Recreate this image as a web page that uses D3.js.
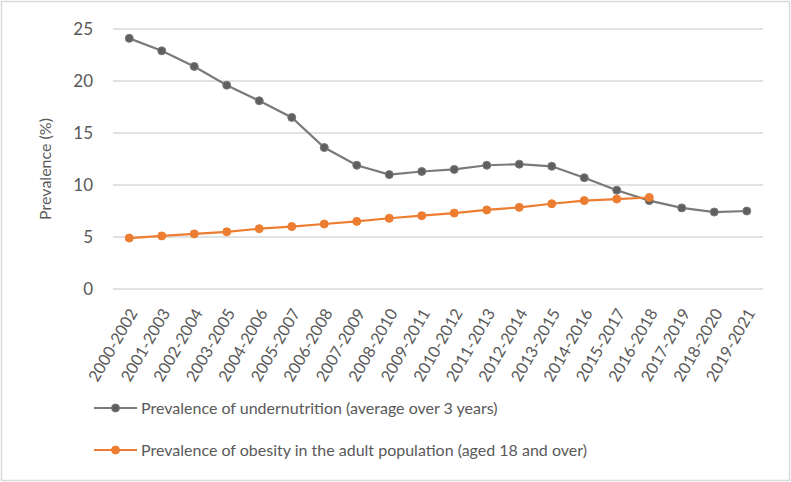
<!DOCTYPE html>
<html>
<head>
<meta charset="utf-8">
<script src="https://cdn.jsdelivr.net/npm/d3@7/dist/d3.min.js"></script>
<style>
  html, body { margin: 0; padding: 0; background: #fff; }
  svg text { font-family: Lato, "Open Sans", sans-serif; fill: #595959; }
</style>
</head>
<body>
<svg id="chart" width="791" height="482"></svg>
<script>
// Three-year periods on the category axis
const periods = [
  "2000-2002", "2001-2003", "2002-2004", "2003-2005", "2004-2006",
  "2005-2007", "2006-2008", "2007-2009", "2008-2010", "2009-2011",
  "2010-2012", "2011-2013", "2012-2014", "2013-2015", "2014-2016",
  "2015-2017", "2016-2018", "2017-2019", "2018-2020", "2019-2021"
];

// Prevalence of undernutrition, % (3-year average)
const undernutrition = [
  24.1, 22.9, 21.4, 19.6, 18.1, 16.5, 13.6, 11.9, 11.0, 11.3,
  11.5, 11.9, 12.0, 11.8, 10.7, 9.5, 8.5, 7.8, 7.4, 7.5
];

// Prevalence of obesity among adults (18+), % — series ends at 2016-2018
const obesity = [
  4.9, 5.1, 5.3, 5.5, 5.8, 6.0, 6.25, 6.5, 6.8, 7.05,
  7.3, 7.6, 7.85, 8.2, 8.5, 8.65, 8.8
];

const yTicks = [0, 5, 10, 15, 20, 25];

const seriesNames = [
  "Prevalence of undernutrition (average over 3 years)",
  "Prevalence of obesity in the adult population (aged 18 and over)"
];

const svg = d3.select("#chart");
const W = 791, H = 482;

// chart border
svg.append("rect")
  .attr("x", 1.5).attr("y", 1.5)
  .attr("width", W - 3).attr("height", H - 3)
  .attr("fill", "#fff").attr("stroke", "#d9d9d9").attr("stroke-width", 1.5);

const plot = { left: 113, right: 763, top: 29, bottom: 289 };

const x = d3.scaleBand().domain(periods).range([plot.left, plot.right]);
const y = d3.scaleLinear().domain([0, 25]).range([plot.bottom, plot.top]);
const cx = d => x(d) + x.bandwidth() / 2;

// horizontal gridlines
svg.append("g")
  .selectAll("line").data(yTicks).join("line")
  .attr("x1", plot.left).attr("x2", plot.right)
  .attr("y1", d => y(d)).attr("y2", d => y(d))
  .attr("stroke", "#d9d9d9").attr("stroke-width", 1.3);

// y axis labels
const yAxis = d3.axisLeft(y).tickValues(yTicks).tickSize(0).tickPadding(0);
svg.append("g")
  .attr("transform", `translate(${plot.left - 20},0)`)
  .call(yAxis)
  .call(g => g.select(".domain").remove())
  .selectAll("text")
  .attr("font-size", 17)
  .attr("font-family", "Lato, sans-serif")
  .attr("fill", "#636363");

// x axis labels, rotated
const xAxis = d3.axisBottom(x).tickSize(0).tickPadding(0);
svg.append("g")
  .attr("transform", `translate(0,${plot.bottom})`)
  .call(xAxis)
  .call(g => g.select(".domain").remove())
  .selectAll("text")
  .attr("font-size", 16.2)
  .attr("font-family", "Lato, sans-serif")
  .attr("fill", "#636363")
  .attr("text-anchor", "end")
  .attr("dy", "0.35em")
  .attr("transform", "translate(4,21) rotate(-60)")
  .attr("x", 0).attr("y", 0);

// y axis title
svg.append("text")
  .attr("transform", `translate(45,169) rotate(-90)`)
  .attr("text-anchor", "middle")
  .attr("dy", "0.35em")
  .attr("font-size", 16)
  .attr("fill", "#636363")
  .text("Prevalence (%)");

const line = d3.line()
  .x((d, i) => cx(periods[i]))
  .y(d => y(d));

const series = [
  { name: seriesNames[0], values: undernutrition, line: "#7a7a7a", dot: "#5f5f5f" },
  { name: seriesNames[1], values: obesity, line: "#ed7d31", dot: "#ed7d31" }
];

series.forEach(s => {
  svg.append("path")
    .datum(s.values)
    .attr("d", line)
    .attr("fill", "none")
    .attr("stroke", s.line)
    .attr("stroke-width", 2.2);
  svg.append("g")
    .selectAll("circle").data(s.values).join("circle")
    .attr("cx", (d, i) => cx(periods[i]))
    .attr("cy", d => y(d))
    .attr("r", 4)
    .attr("fill", s.dot)
    .attr("stroke", s.line)
    .attr("stroke-width", 1);
});

// legend
const legend = svg.append("g");
const legendY = [408, 450];
series.forEach((s, i) => {
  const g = legend.append("g").attr("transform", `translate(94,${legendY[i]})`);
  g.append("line").attr("x1", 0).attr("x2", 43).attr("y1", 0).attr("y2", 0)
    .attr("stroke", s.line).attr("stroke-width", 2.2);
  g.append("circle").attr("cx", 21.5).attr("cy", 0).attr("r", 4)
    .attr("fill", s.dot).attr("stroke", s.line).attr("stroke-width", 1);
  g.append("text").attr("x", 47).attr("y", 0).attr("dy", "0.35em")
    .attr("font-size", 16)
    .attr("fill", "#636363")
    .text(s.name);
});
</script>
</body>
</html>
